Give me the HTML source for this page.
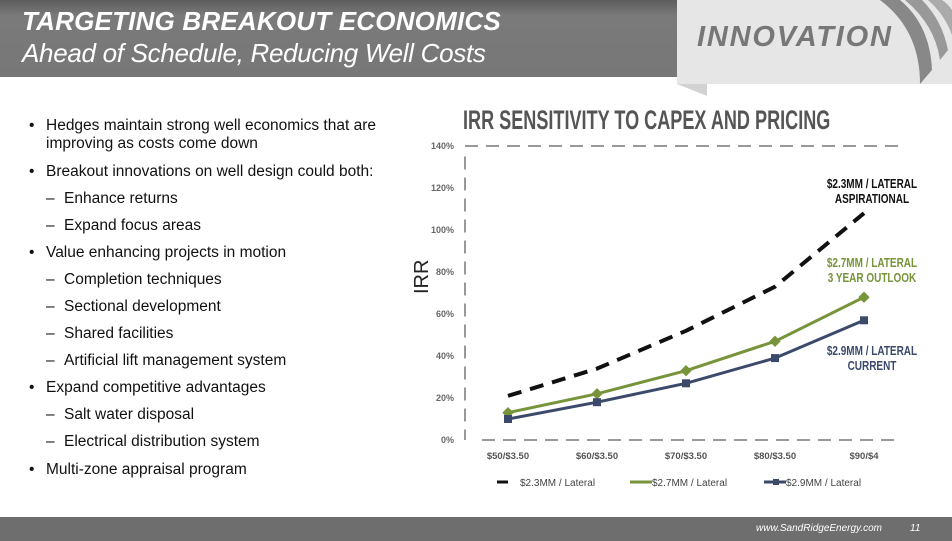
<!DOCTYPE html>
<html><head><meta charset="utf-8"><style>
body{margin:0;width:952px;height:541px;overflow:hidden;background:#fff;font-family:"Liberation Sans",sans-serif;position:relative}
.hdr{position:absolute;left:0;top:0;width:952px;height:77px;background:linear-gradient(#5c5c5c,#7a7a7a 20%,#777)}
.t1{position:absolute;left:22px;top:6px;color:#fff;font-style:italic;font-weight:bold;font-size:26px;letter-spacing:0.2px}
.t2{position:absolute;left:22px;top:38px;color:#fff;font-style:italic;font-size:26px;letter-spacing:-0.3px}
.panel{position:absolute;left:677px;top:0;width:275px;height:84px;background:#e6e6e6}
.tab{position:absolute;left:677px;top:84px;width:30px;height:12px;background:#d2d2d2;clip-path:polygon(0 0,100% 0,100% 100%)}
.inno{position:absolute;left:697px;top:21px;color:#777;font-weight:bold;font-style:italic;font-size:29px;letter-spacing:1.8px}
ul{position:absolute;left:0;top:111px;margin:0;padding:0;list-style:none;font-size:15.5px;color:#111}
li{position:absolute;white-space:nowrap}
.b{left:29px}.b:before{content:"•";position:absolute;left:0}.b span{position:absolute;left:17px}
.d{left:46px}.d:before{content:"–";position:absolute;left:0}.d span{position:absolute;left:18px}
.ftr{position:absolute;left:0;top:517px;width:952px;height:24px;background:#6e6e6e}
.ftr span{position:absolute;top:6px;color:#fff;font-size:10px;font-style:italic}
</style></head><body>
<div class="hdr"></div>
<div class="t1">TARGETING BREAKOUT ECONOMICS</div>
<div class="t2">Ahead of Schedule, Reducing Well Costs</div>
<div class="panel"></div>
<div class="tab"></div>
<div class="inno">INNOVATION</div>
<svg style="position:absolute;left:880px;top:0" width="72" height="84">
<path d="M0,0 Q40,30 40,84 L52,70 Q50,25 20,0Z" fill="#888"/>
<path d="M25,0 Q55,25 60,60 L68,50 Q62,20 42,0Z" fill="#999"/>
<path d="M48,0 Q65,15 72,35 L72,10 Q68,4 62,0Z" fill="#aaa"/>
</svg>
<ul>
<li class="b" style="top:6px"><span>Hedges maintain strong well economics that are<br>improving as costs come down</span></li>
<li class="b" style="top:52px"><span>Breakout innovations on well design could both:</span></li>
<li class="d" style="top:79px"><span>Enhance returns</span></li>
<li class="d" style="top:106px"><span>Expand focus areas</span></li>
<li class="b" style="top:133px"><span>Value enhancing projects in motion</span></li>
<li class="d" style="top:160px"><span>Completion techniques</span></li>
<li class="d" style="top:187px"><span>Sectional development</span></li>
<li class="d" style="top:214px"><span>Shared facilities</span></li>
<li class="d" style="top:241px"><span>Artificial lift management system</span></li>
<li class="b" style="top:268px"><span>Expand competitive advantages</span></li>
<li class="d" style="top:295px"><span>Salt water disposal</span></li>
<li class="d" style="top:322px"><span>Electrical distribution system</span></li>
<li class="b" style="top:350px"><span>Multi-zone appraisal program</span></li>
</ul>
<svg id="chart" style="position:absolute;left:0;top:0" width="952" height="541"></svg>
<div class="ftr"><span style="left:756px">www.SandRidgeEnergy.com</span><span style="left:910px">11</span></div>
<script>
const categories=["$50/$3.50","$60/$3.50","$70/$3.50","$80/$3.50","$90/$4"];
const aspirational=[21,34,52,73,108];
const outlook=[13,22,33,47,68];
const current=[10,18,27,39,57];
const yTicks=[0,20,40,60,80,100,120,140];
const seriesNames=["$2.3MM / Lateral","$2.7MM / Lateral","$2.9MM / Lateral"];
const svg=document.getElementById('chart');
const NS="http://www.w3.org/2000/svg";
const x0=508,dx=89,y0=440,yScale=2.1;
const X=i=>x0+i*dx, Y=v=>y0-v*yScale;
function mk(t,a){const e=document.createElementNS(NS,t);for(const k in a)e.setAttribute(k,a[k]);svg.appendChild(e);return e;}
function txt(s,a){const e=mk('text',a);e.textContent=s;return e;}
let e;
e=txt("IRR SENSITIVITY TO CAPEX AND PRICING",{x:463,y:129,'font-size':27,'font-weight':'bold',fill:'#555'});
e.setAttribute('transform','translate(463,0) scale(0.67,1) translate(-463,0)');

e=mk('line',{x1:465,y1:Y(140),x2:905,y2:Y(140),stroke:'#999','stroke-width':2,'stroke-dasharray':'13,8'});

e=mk('line',{x1:482,y1:Y(0),x2:897,y2:Y(0),stroke:'#999','stroke-width':2,'stroke-dasharray':'13,8'});

e=mk('line',{x1:465,y1:Y(135),x2:465,y2:Y(0),stroke:'#999','stroke-width':2,'stroke-dasharray':'13,8'});

yTicks.forEach(v=>{const t=txt(v+'%',{x:454,y:Y(v)+3,'font-size':9,'text-anchor':'end',fill:'#666','font-weight':'bold'});
});
categories.forEach((c,i)=>{const t=txt(c,{x:X(i),y:459,'font-size':9.5,'text-anchor':'middle',fill:'#555','font-weight':'bold'});
});
e=txt("IRR",{x:0,y:0,'font-size':20,fill:'#222',transform:`translate(428,294) rotate(-90)`});

const pts=a=>a.map((v,i)=>X(i)+','+Y(v)).join(' ');
e=mk('polyline',{points:pts(aspirational),fill:'none',stroke:'#111','stroke-width':4,'stroke-dasharray':'14,9'});

e=mk('polyline',{points:pts(outlook),fill:'none',stroke:'#77943a','stroke-width':3});

outlook.forEach((v,i)=>{const m=mk('rect',{x:X(i)-4,y:Y(v)-4,width:8,height:8,fill:'#77943a',transform:`rotate(45 ${X(i)} ${Y(v)})`});
});
e=mk('polyline',{points:pts(current),fill:'none',stroke:'#3b4a6b','stroke-width':3});

current.forEach((v,i)=>{const m=mk('rect',{x:X(i)-4,y:Y(v)-4,width:8,height:8,fill:'#3b4a6b'});
});
function ann(lines,x,y,color,name){lines.forEach((s,k)=>{const t=txt(s,{x:x,y:y+k*15,'font-size':12.5,'font-weight':'bold','text-anchor':'middle',fill:color,transform:`translate(${x},0) scale(0.8,1) translate(${-x},0)`});
});}
ann(["$2.3MM / LATERAL","ASPIRATIONAL"],872,188,'#111','annotation-aspirational');
ann(["$2.7MM / LATERAL","3 YEAR OUTLOOK"],872,267,'#77943a','annotation-outlook');
ann(["$2.9MM / LATERAL","CURRENT"],872,355,'#3b4a6b','annotation-current');
e=mk('line',{x1:497,y1:482,x2:508,y2:482,stroke:'#111','stroke-width':3});
e=txt(seriesNames[0],{x:520,y:486,'font-size':10,fill:'#444'});
e=mk('line',{x1:630,y1:482,x2:652,y2:482,stroke:'#77943a','stroke-width':3});
e=txt(seriesNames[1],{x:652,y:486,'font-size':10,fill:'#444'});
e=mk('line',{x1:764,y1:482,x2:786,y2:482,stroke:'#3b4a6b','stroke-width':3});
e=mk('rect',{x:773,y:479,width:6,height:6,fill:'#3b4a6b'});
e=txt(seriesNames[2],{x:786,y:486,'font-size':10,fill:'#444'});
</script>
</body></html>
